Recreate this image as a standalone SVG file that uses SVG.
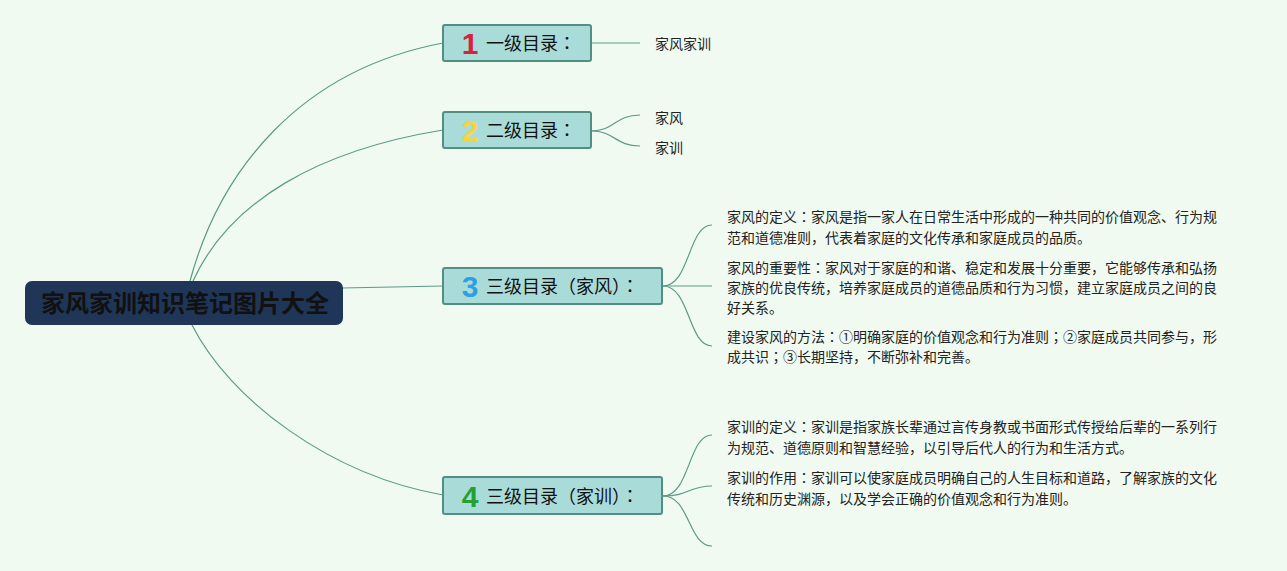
<svg xmlns="http://www.w3.org/2000/svg" width="1287" height="571" viewBox="0 0 1287 571">
<style>
.bg{fill:#f0faf1}
.conn path,.conn line{fill:none;stroke:#5c9a88;stroke-width:1.2}
.box{fill:#a9dcd9;stroke:#528f83;stroke-width:2}
.num{font-family:"Liberation Sans","Noto Sans",sans-serif;font-weight:bold;font-size:30px;text-anchor:middle}
.lbl{font-family:"Noto Sans CJK SC",sans-serif;font-size:18px;fill:#111}
.leaf{font-family:"Noto Sans CJK SC",sans-serif;font-size:14px;fill:#222}
.root{font-family:"Noto Sans CJK SC",sans-serif;font-size:24px;font-weight:bold;fill:#111;text-anchor:middle}
.p{font-family:"Noto Sans CJK JP","Noto Sans CJK SC",sans-serif}
</style>
<rect class="bg" x="0" y="0" width="1287" height="571"/>
<g id="connectors" class="conn">
<path d="M190,281 C220,170 300,70 443,43"/>
<path d="M193,281 C230,200 320,150 443,130"/>
<line x1="342" y1="288" x2="443" y2="286"/>
<path d="M192,325 C230,400 330,475 443,495"/>
<line x1="591" y1="43" x2="640" y2="43"/>
<path d="M591,131 C615,131 615,115 640,115"/>
<path d="M591,131 C615,131 615,146 640,146"/>
<path d="M663,286 C690,286 688,225 712,225"/>
<line x1="663" y1="286" x2="712" y2="286"/>
<path d="M663,286 C690,286 688,346 712,346"/>
<path d="M663,496 C690,496 688,435 712,435"/>
<path d="M663,496 C690,496 688,486 712,486"/>
<path d="M663,496 C690,496 688,546 712,546"/>
</g>
<g id="root">
<rect x="25" y="281" width="318" height="44" rx="7" fill="#1f3658"/>
<text class="root" x="185" y="312">家风家训知识笔记图片大全</text>
</g>
<g id="node1">
<rect class="box" x="443" y="25" width="148" height="36" rx="2"/>
<text class="num" x="470" y="54" fill="#d8213c">1</text>
<text class="lbl" x="486" y="50">一级目录<tspan class="p">：</tspan></text>
</g>
<g id="node2">
<rect class="box" x="443" y="112" width="148" height="36" rx="2"/>
<text class="num" x="470" y="141" fill="#f2d545">2</text>
<text class="lbl" x="486" y="137">二级目录<tspan class="p">：</tspan></text>
</g>
<g id="node3">
<rect class="box" x="443" y="268" width="219" height="36" rx="2"/>
<text class="num" x="470" y="297" fill="#2f9fe0">3</text>
<text class="lbl" x="486" y="293">三级目录（家风）<tspan class="p">：</tspan></text>
</g>
<g id="node4">
<rect class="box" x="443" y="477" width="219" height="37" rx="2"/>
<text class="num" x="470" y="507" fill="#25a032">4</text>
<text class="lbl" x="486" y="503">三级目录（家训）<tspan class="p">：</tspan></text>
</g>
<g id="leaf1-1"><text class="leaf" x="655" y="49">家风家训</text></g>
<g id="leaf2-1"><text class="leaf" x="655" y="123">家风</text></g>
<g id="leaf2-2"><text class="leaf" x="655" y="153">家训</text></g>
<g id="leaf3-1">
<text class="leaf" x="727" y="222">家风的定义<tspan class="p">：</tspan>家风是指一家人在日常生活中形成的一种共同的价值观念、行为规</text>
<text class="leaf" x="727" y="243">范和道德准则，代表着家庭的文化传承和家庭成员的品质。</text>
</g>
<g id="leaf3-2">
<text class="leaf" x="727" y="273">家风的重要性<tspan class="p">：</tspan>家风对于家庭的和谐、稳定和发展十分重要，它能够传承和弘扬</text>
<text class="leaf" x="727" y="293">家族的优良传统，培养家庭成员的道德品质和行为习惯，建立家庭成员之间的良</text>
<text class="leaf" x="727" y="313">好关系。</text>
</g>
<g id="leaf3-3">
<text class="leaf" x="727" y="342">建设家风的方法<tspan class="p">：</tspan>①明确家庭的价值观念和行为准则<tspan class="p">；</tspan>②家庭成员共同参与，形</text>
<text class="leaf" x="727" y="362">成共识<tspan class="p">；</tspan>③长期坚持，不断弥补和完善。</text>
</g>
<g id="leaf4-1">
<text class="leaf" x="727" y="432">家训的定义<tspan class="p">：</tspan>家训是指家族长辈通过言传身教或书面形式传授给后辈的一系列行</text>
<text class="leaf" x="727" y="453">为规范、道德原则和智慧经验，以引导后代人的行为和生活方式。</text>
</g>
<g id="leaf4-2">
<text class="leaf" x="727" y="483">家训的作用<tspan class="p">：</tspan>家训可以使家庭成员明确自己的人生目标和道路，了解家族的文化</text>
<text class="leaf" x="727" y="504">传统和历史渊源，以及学会正确的价值观念和行为准则。</text>
</g>
</svg>
